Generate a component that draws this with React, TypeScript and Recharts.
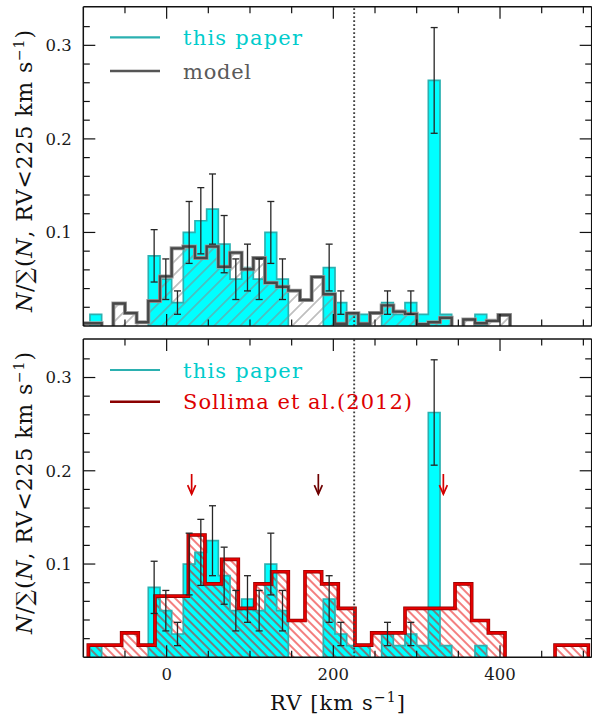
import React from 'react';
import {
  ComposedChart,
  Area,
  Line,
  Scatter,
  XAxis,
  YAxis,
  ReferenceLine,
  ErrorBar,
  Legend,
} from 'recharts';

// ---------------- data ----------------
// "this paper": 14 km/s bins, normalised counts and error bars
const thisPaperBinWidth = 14;
const thisPaperStarts = [
  -92, -78, -64, -50, -36, -22, -8, 6, 20, 34, 48, 62, 76, 90, 104, 118, 132, 146, 160, 174, 188,
  202, 216, 230, 244, 258, 272, 286, 300, 314, 328, 342, 356, 370, 384,
];
const thisPaperValues = [
  0.0125, 0, 0, 0, 0, 0.075, 0.05, 0.025, 0.1, 0.1125, 0.125, 0.0875, 0.05, 0.0625, 0.05, 0.1, 0.05,
  0, 0, 0, 0.0625, 0.025, 0.0125, 0.0125, 0, 0.025, 0.0125, 0.025, 0.0125, 0.2625, 0.0125, 0, 0,
  0.0125, 0,
];
const thisPaperErrors = [
  0, 0, 0, 0, 0, 0.028, 0.0217, 0.0125, 0.0331, 0.0354, 0.0375, 0.0306, 0.0217, 0.025, 0.0217,
  0.0331, 0.0217, 0, 0, 0, 0.025, 0.0125, 0, 0, 0, 0.0125, 0, 0.0125, 0, 0.0565, 0, 0, 0, 0, 0,
];

// "model": 14 km/s bins
const modelBinWidth = 14;
const modelStarts = [
  -106, -92, -78, -64, -50, -36, -22, -8, 6, 20, 34, 48, 62, 76, 90, 104, 118, 132, 146, 160, 174,
  188, 202, 216, 230, 244, 258, 272, 286, 300, 314, 328, 342, 356, 370, 384, 398,
];
const modelValues = [
  0.003, 0.003, 0, 0.024, 0.0138, 0.004, 0.0267, 0.053, 0.083, 0.085, 0.0727, 0.085, 0.0634, 0.0784,
  0.0607, 0.0727, 0.0463, 0.042, 0.0378, 0.0278, 0.0525, 0.034, 0.0024, 0.0136, 0.0024, 0.0139,
  0.022, 0.0154, 0.013, 0.002, 0.004, 0.0088, 0, 0.007, 0.003, 0.0055, 0.0118,
];

// "Sollima et al.(2012)": 20 km/s bins
const sollimaBinWidth = 20;
const sollimaStarts = [
  -94, -74, -54, -34, -14, 6, 26, 46, 66, 86, 106, 126, 146, 166, 186, 206, 226, 246, 266, 286, 306,
  326, 346, 366, 386, 406, 426, 446, 466, 486,
];
const sollimaValues = [
  0.0131, 0.0131, 0.0262, 0.0131, 0.0656, 0.0656, 0.1312, 0.0787, 0.105, 0.0525, 0.0787, 0.0918,
  0.0394, 0.0918, 0.0787, 0.0525, 0.0131, 0.0262, 0.0262, 0.0525, 0.0525, 0.0525, 0.0787, 0.0394,
  0.0262, 0, 0, 0, 0.0131, 0.0131,
];

// arrows in the lower panel
const arrowRV = [30, 182, 332];
const arrowTopValue = 0.1965;

// axes
const xTicks = [-50, 0, 50, 100, 150, 200, 250, 300, 350, 400, 450, 500];
const xMajorTicks = [0, 200, 400];
const yTicks = [0.02, 0.04, 0.06, 0.08, 0.1, 0.12, 0.14, 0.16, 0.18, 0.2, 0.22, 0.24, 0.26, 0.28, 0.3, 0.32];
const yMajorTicks = [0.1, 0.2, 0.3];
const rvCut = 225;

const X_DOMAIN: [number, number] = [-100, 510];
const Y_DOMAIN: [number, number] = [0, 0.3413];

// ---------------- helpers building tables from the arrays ----------------
type Hist = { starts: number[]; values: number[]; width: number };
const thisPaperHist: Hist = { starts: thisPaperStarts, values: thisPaperValues, width: thisPaperBinWidth };
const modelHist: Hist = { starts: modelStarts, values: modelValues, width: modelBinWidth };
const sollimaHist: Hist = { starts: sollimaStarts, values: sollimaValues, width: sollimaBinWidth };

const clampX = (x: number) => Math.min(X_DOMAIN[1], Math.max(X_DOMAIN[0], x));

function histValueAt(h: Hist, x: number) {
  for (let i = 0; i < h.starts.length; i++) {
    if (x >= h.starts[i] && x < h.starts[i] + h.width) return h.values[i];
  }
  return 0;
}

function buildStepTable(hists: Record<string, Hist>) {
  const xs = new Set<number>([X_DOMAIN[0], X_DOMAIN[1]]);
  Object.values(hists).forEach((h) =>
    h.starts.forEach((s) => {
      xs.add(clampX(s));
      xs.add(clampX(s + h.width));
    })
  );
  const sorted = Array.from(xs).sort((a, b) => a - b);
  return sorted.map((x) => {
    const row: Record<string, number> = { x };
    Object.keys(hists).forEach((k) => {
      row[k] = histValueAt(hists[k], x);
    });
    return row;
  });
}

function buildOutline(h: Hist) {
  const pts: { x: number; v: number | null }[] = [];
  let inRun = false;
  let lastEnd = 0;
  for (let i = 0; i < h.starts.length; i++) {
    const v = h.values[i];
    const s = clampX(h.starts[i]);
    const e = clampX(h.starts[i] + h.width);
    if (v > 0) {
      if (!inRun) {
        pts.push({ x: s, v: 0 });
        inRun = true;
      }
      pts.push({ x: s, v });
      lastEnd = e;
    } else if (inRun) {
      pts.push({ x: s, v: 0 });
      pts.push({ x: s, v: null });
      inRun = false;
    }
  }
  if (inRun) pts.push({ x: lastEnd, v: 0 });
  return pts;
}

const topTable = buildStepTable({ cyan: thisPaperHist, model: modelHist });
const bottomTable = buildStepTable({ cyan: thisPaperHist, soll: sollimaHist });
const cyanOutline = buildOutline(thisPaperHist);
const modelOutline = buildOutline(modelHist);
const sollimaOutline = buildOutline(sollimaHist);
const errorPoints = thisPaperStarts
  .map((s, i) => ({ x: s + thisPaperBinWidth / 2, y: thisPaperValues[i], err: thisPaperErrors[i] }))
  .filter((p) => p.y > 0);
const arrowPoints = arrowRV.map((x) => ({ x, y: arrowTopValue }));

// ---------------- styles ----------------
const FONT = '"DejaVu Serif", serif';
const AXIS_LINE = { stroke: '#111', strokeWidth: 1.5 };
const MAJOR_LEN = 12;
const MINOR_LEN = 6.5;
const CYAN = '#00ffff';
const CYAN_EDGE = '#2bb0b0';
const ARROW_COLORS = ['#d40000', '#6e0000', '#d40000'];
const THIN = 0.001; // axes take (almost) no room so the frame sits on the plot edges

const W = 592;
const TOP_PANEL = { top: 0, height: 334, margin: { top: 6.7, right: 0.3, bottom: 8, left: 83.3 } };
const BOT_PANEL = { top: 334, height: 380, margin: { top: 5, right: 0.3, bottom: 56.7, left: 83.3 } };

function xTick(side: 'bottom' | 'top', withLabels: boolean) {
  return (props: any) => {
    const { x, y, payload } = props;
    const v = payload.value;
    const major = xMajorTicks.includes(v);
    const len = major ? MAJOR_LEN : MINOR_LEN;
    const dir = side === 'bottom' ? -1 : 1;
    return (
      <g>
        <line x1={x} x2={x} y1={y} y2={y + dir * len} stroke="#111" strokeWidth={1.2} />
        {withLabels && major ? (
          <text x={x} y={y + 22.7} textAnchor="middle" fontFamily={FONT} fontSize={16.5} fill="#1a1a1a">
            {v}
          </text>
        ) : null}
      </g>
    );
  };
}

function yTick(side: 'left' | 'right') {
  return (props: any) => {
    const { x, y, payload } = props;
    const v = payload.value;
    const major = yMajorTicks.includes(v);
    const len = major ? MAJOR_LEN : MINOR_LEN;
    const dir = side === 'left' ? 1 : -1;
    return (
      <g>
        <line x1={x} x2={x + dir * len} y1={y} y2={y} stroke="#111" strokeWidth={1.2} />
        {side === 'left' && major ? (
          <text x={x - 11.6} y={y + 5.8} textAnchor="end" fontFamily={FONT} fontSize={16.5} fill="#1a1a1a">
            {String(v)}
          </text>
        ) : null}
      </g>
    );
  };
}

function frameAxes(withXLabels: boolean) {
  return [
    <XAxis
      key="xb"
      xAxisId="b"
      orientation="bottom"
      type="number"
      dataKey="x"
      domain={X_DOMAIN}
      allowDataOverflow
      ticks={xTicks}
      interval={0}
      height={THIN}
      tickSize={0}
      tickMargin={0}
      axisLine={AXIS_LINE}
      tickLine={false}
      tick={xTick('bottom', withXLabels)}
    />,
    <XAxis
      key="xt"
      xAxisId="t"
      orientation="top"
      type="number"
      dataKey="x"
      domain={X_DOMAIN}
      allowDataOverflow
      ticks={xTicks}
      interval={0}
      height={THIN}
      tickSize={0}
      tickMargin={0}
      axisLine={AXIS_LINE}
      tickLine={false}
      tick={xTick('top', false)}
    />,
    <YAxis
      key="yl"
      yAxisId="l"
      orientation="left"
      type="number"
      domain={Y_DOMAIN}
      allowDataOverflow
      ticks={yTicks}
      interval={0}
      width={THIN}
      tickSize={0}
      tickMargin={0}
      axisLine={AXIS_LINE}
      tickLine={false}
      tick={yTick('left')}
    />,
    <YAxis
      key="yr"
      yAxisId="r"
      orientation="right"
      type="number"
      domain={Y_DOMAIN}
      allowDataOverflow
      ticks={yTicks}
      interval={0}
      width={THIN}
      tickSize={0}
      tickMargin={0}
      axisLine={AXIS_LINE}
      tickLine={false}
      tick={yTick('right')}
    />,
  ];
}

type LegendItem = { label: string; y: number; lineColor: string; lineWidth: number; textColor: string; textLength: number };

function LegendBox({ items }: { items: LegendItem[] }) {
  return (
    <svg width={W} height={100} style={{ display: 'block', overflow: 'visible' }}>
      {items.map((it) => (
        <g key={it.label}>
          <line x1={110} x2={160} y1={it.y} y2={it.y} stroke={it.lineColor} strokeWidth={it.lineWidth} />
          <text
            x={183}
            y={it.y + 7.5}
            fontFamily={FONT}
            fontSize={21}
            fill={it.textColor}
            textLength={it.textLength}
            lengthAdjust="spacing"
          >
            {it.label}
          </text>
        </g>
      ))}
    </svg>
  );
}

const topLegendItems: LegendItem[] = [
  { label: 'this paper', y: 37.3, lineColor: CYAN_EDGE, lineWidth: 2.2, textColor: '#00cccc', textLength: 119 },
  { label: 'model', y: 71, lineColor: '#555', lineWidth: 2.6, textColor: '#5a5a5a', textLength: 68 },
];
const bottomLegendItems: LegendItem[] = [
  { label: 'this paper', y: 36, lineColor: CYAN_EDGE, lineWidth: 2.2, textColor: '#00cccc', textLength: 119 },
  { label: 'Sollima et al.(2012)', y: 67.7, lineColor: '#8b0000', lineWidth: 2.4, textColor: '#dd0000', textLength: 229 },
];

const EmptyShape = () => <g />;

const ArrowShape = (props: any) => {
  const { cx, cy, payload } = props;
  const i = arrowRV.indexOf(payload?.x);
  const color = ARROW_COLORS[i >= 0 ? i : 0];
  return (
    <g stroke={color} strokeWidth={1.7} fill="none">
      <line x1={cx} y1={cy} x2={cx} y2={cy + 20} />
      <path d={`M${cx - 4},${cy + 11} L${cx},${cy + 20} L${cx + 4},${cy + 11}`} />
    </g>
  );
};

function ErrorSeries() {
  return (
    <Scatter
      xAxisId="b"
      yAxisId="l"
      data={errorPoints}
      dataKey="y"
      isAnimationActive={false}
      shape={EmptyShape}
      legendType="none"
    >
      <ErrorBar dataKey="err" direction="y" width={3.5} stroke="#262626" strokeWidth={1.3} isAnimationActive={false} />
    </Scatter>
  );
}

export default function App() {
  return (
    <div style={{ position: 'absolute', left: 0, top: 0, width: W, height: 714, background: '#fff' }}>
      <svg width={0} height={0} style={{ position: 'absolute' }}>
        <defs>
          <pattern id="hatchGray" patternUnits="userSpaceOnUse" width={9.2} height={9.2} patternTransform="rotate(45)">
            <line x1={4.6} y1={0} x2={4.6} y2={9.2} stroke="#8a8a8a" strokeWidth={1} />
          </pattern>
          <pattern id="hatchRed" patternUnits="userSpaceOnUse" width={6} height={6} patternTransform="rotate(-45)">
            <line x1={3} y1={0} x2={3} y2={6} stroke="#e80000" strokeWidth={1} />
          </pattern>
        </defs>
      </svg>

      {/* upper panel */}
      <div style={{ position: 'absolute', left: 0, top: TOP_PANEL.top }}>
        <ComposedChart width={W} height={TOP_PANEL.height} data={topTable} margin={TOP_PANEL.margin}>
          {frameAxes(false)}
          <Area xAxisId="b" yAxisId="l" type="stepAfter" dataKey="cyan" stroke="none" fill={CYAN} fillOpacity={1} isAnimationActive={false} legendType="none" />
          <Area xAxisId="b" yAxisId="l" type="stepAfter" dataKey="model" stroke="none" fill="url(#hatchGray)" fillOpacity={1} isAnimationActive={false} legendType="none" />
          <Line xAxisId="b" yAxisId="l" data={cyanOutline} dataKey="v" type="stepAfter" stroke={CYAN_EDGE} strokeWidth={1.7} dot={false} activeDot={false} isAnimationActive={false} legendType="none" />
          <Line xAxisId="b" yAxisId="l" data={modelOutline} dataKey="v" type="stepAfter" stroke="#a0a0a0" strokeWidth={4} dot={false} activeDot={false} isAnimationActive={false} legendType="none" />
          <Line xAxisId="b" yAxisId="l" data={modelOutline} dataKey="v" type="stepAfter" stroke="#474747" strokeWidth={2.4} dot={false} activeDot={false} isAnimationActive={false} legendType="none" />
          <ReferenceLine xAxisId="b" yAxisId="l" x={rvCut} stroke="#404040" strokeWidth={1.9} strokeDasharray="1.8 2.2" />
          {ErrorSeries()}
          <Legend
            layout="vertical"
            align="center"
            verticalAlign="middle"
            wrapperStyle={{ left: 0, top: 0, width: W, height: 100, pointerEvents: 'none' }}
            content={() => <LegendBox items={topLegendItems} />}
          />
        </ComposedChart>
      </div>

      {/* lower panel */}
      <div style={{ position: 'absolute', left: 0, top: BOT_PANEL.top }}>
        <ComposedChart width={W} height={BOT_PANEL.height} data={bottomTable} margin={BOT_PANEL.margin}>
          {frameAxes(true)}
          <Area xAxisId="b" yAxisId="l" type="stepAfter" dataKey="cyan" stroke="none" fill={CYAN} fillOpacity={1} isAnimationActive={false} legendType="none" />
          <Area xAxisId="b" yAxisId="l" type="stepAfter" dataKey="soll" stroke="none" fill="url(#hatchRed)" fillOpacity={1} isAnimationActive={false} legendType="none" />
          <Line xAxisId="b" yAxisId="l" data={cyanOutline} dataKey="v" type="stepAfter" stroke={CYAN_EDGE} strokeWidth={1.7} dot={false} activeDot={false} isAnimationActive={false} legendType="none" />
          <Line xAxisId="b" yAxisId="l" data={sollimaOutline} dataKey="v" type="stepAfter" stroke="#8a0000" strokeWidth={3.6} dot={false} activeDot={false} isAnimationActive={false} legendType="none" />
          <Line xAxisId="b" yAxisId="l" data={sollimaOutline} dataKey="v" type="stepAfter" stroke="#e60000" strokeWidth={2.3} dot={false} activeDot={false} isAnimationActive={false} legendType="none" />
          <ReferenceLine xAxisId="b" yAxisId="l" x={rvCut} stroke="#404040" strokeWidth={1.9} strokeDasharray="1.8 2.2" />
          {ErrorSeries()}
          <Scatter xAxisId="b" yAxisId="l" data={arrowPoints} dataKey="y" isAnimationActive={false} shape={ArrowShape} legendType="none" />
          <Legend
            layout="vertical"
            align="center"
            verticalAlign="middle"
            wrapperStyle={{ left: 0, top: 0, width: W, height: 100, pointerEvents: 'none' }}
            content={() => <LegendBox items={bottomLegendItems} />}
          />
        </ComposedChart>
      </div>

      {/* axis titles */}
      <svg width={W} height={714} style={{ position: 'absolute', left: 0, top: 0, pointerEvents: 'none' }}>
        {[171, 493].map((cy) => (
          <text
            key={cy}
            transform={`translate(32,${cy}) rotate(-90)`}
            textAnchor="middle"
            fontFamily={FONT}
            fontSize={22}
            fill="#111"
            textLength={282}
            lengthAdjust="spacing"
          >
            <tspan fontStyle="italic">N</tspan>/∑(<tspan fontStyle="italic">N</tspan>, RV&lt;225 km s
            <tspan dy={-8} fontSize={14}>−1</tspan>
            <tspan dy={8}>)</tspan>
          </text>
        ))}
        <text x={337.5} y={709.5} textAnchor="middle" fontFamily={FONT} fontSize={21} fill="#111" textLength={135} lengthAdjust="spacing">
          RV [km s<tspan dy={-8} fontSize={14}>−1</tspan>
          <tspan dy={8}>]</tspan>
        </text>
      </svg>
    </div>
  );
}
